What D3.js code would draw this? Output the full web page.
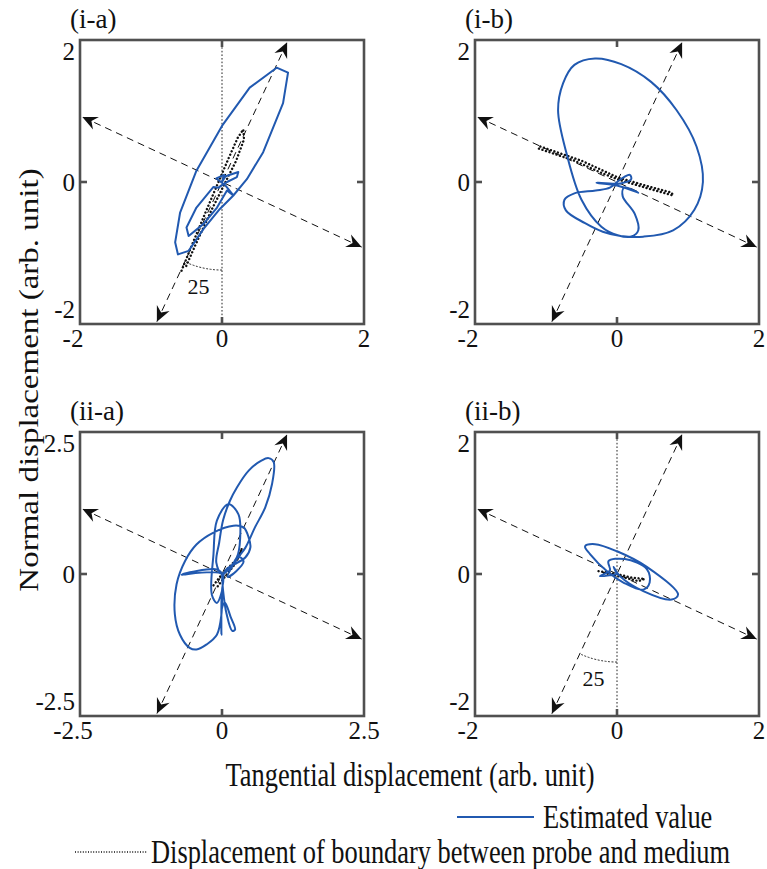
<!DOCTYPE html>
<html><head><meta charset="utf-8">
<script src="https://cdn.jsdelivr.net/npm/d3@7"></script>
<style>
html,body{margin:0;padding:0;background:#fff;}
svg text{font-family:"Liberation Serif","Times New Roman",serif;fill:#111;}
</style></head>
<body>
<svg id="chart" width="767" height="869"></svg>
<script>
// ---------------- data ----------------
const panelLabels = ["(i-a)", "(i-b)", "(ii-a)", "(ii-b)"];
const axisLimits = [2, 2, 2.5, 2];
const tickValuesA = [-2, 0, 2];
const tickValuesB = [-2.5, 0, 2.5];
const rotationAngleDeg = 25;           // angle of the rotated (dashed) frame
const rotatedAxisLength = [2.17, 2.17, 2.71, 2.17];
const showVerticalRef = [true, false, false, true];
const angleLabel = "25";

const estimatedIA = [[0,0],[0.05,0.08],[0.23,0.14],[0.21,0.07],[0.07,0.0],[-0.05,-0.08],[-0.12,-0.07],[-0.36,-0.36],[-0.50,-0.64],[-0.47,-0.76],[-0.26,-0.59],[-0.07,-0.36],[0.07,-0.12],[0.16,-0.19],[0.35,0.04],[0.58,0.42],[0.86,1.11],[0.93,1.54],[0.77,1.61],[0.39,1.33],[0.0,0.79],[-0.36,0.16],[-0.59,-0.43],[-0.66,-0.85],[-0.62,-1.02],[-0.47,-0.97],[-0.26,-0.66],[-0.03,-0.38],[0.16,-0.19],[0.05,-0.05],[-0.08,0.05],[0.03,0.1],[0.0,0.0]];
const boundaryIA = [[-0.57,-1.25],[-0.42,-0.88],[-0.22,-0.40],[-0.05,0.0],[0.10,0.35],[0.22,0.62],[0.30,0.74],[0.31,0.60],[0.20,0.30],[0.05,0.0],[-0.15,-0.40],[-0.38,-0.90],[-0.52,-1.22]];

const estimatedIB = [[0,0],[0.18,0.10],[0.20,0.04],[0.05,-0.02],[-0.29,-0.01],[0.0,-0.05],[0.30,-0.15],[0.10,-0.08],[0.08,-0.20],[0.25,-0.45],[0.30,-0.68],[0.20,-0.77],[0.01,-0.75],[-0.22,-0.63],[-0.50,-0.25],[-0.71,0.40],[-0.83,1.01],[-0.76,1.39],[-0.60,1.65],[-0.31,1.74],[0.06,1.66],[0.48,1.41],[0.84,1.01],[1.12,0.50],[1.21,0.0],[1.09,-0.39],[0.79,-0.68],[0.37,-0.77],[0.05,-0.76],[-0.20,-0.70],[-0.45,-0.58],[-0.72,-0.40],[-0.74,-0.25],[-0.60,-0.16],[-0.30,-0.12],[-0.10,-0.08],[0,0]];
const boundaryIB = [[-1.10,0.47],[-0.60,0.30],[-0.20,0.12],[0,0.04],[0.40,-0.08],[0.79,-0.19],[0.77,-0.15],[0.40,-0.05],[0,0.07],[-0.50,0.30],[-1.08,0.50]];

const estimatedIIA = [[0,0],[0.15,0.10],[0.30,0.30],[0.38,0.22],[0.25,0.05],[0.10,-0.05],[0.26,0.26],[0.41,0.46],[0.58,0.82],[0.76,1.17],[0.88,1.58],[0.91,1.97],[0.82,2.04],[0.70,2.00],[0.47,1.82],[0.26,1.52],[0.14,1.29],[0.02,0.95],[-0.05,0.55],[-0.10,0.20],[0.0,0.0],[0.26,0.29],[0.32,0.64],[0.29,1.05],[0.11,1.23],[-0.09,0.94],[-0.15,0.35],[-0.18,-0.36],[-0.09,-0.51],[0.0,-0.30],[0.05,0.05],[0.41,0.29],[0.50,0.47],[0.47,0.64],[0.38,0.82],[0.20,0.85],[-0.15,0.73],[-0.45,0.52],[-0.65,0.23],[-0.80,-0.18],[-0.83,-0.71],[-0.74,-1.07],[-0.57,-1.30],[-0.45,-1.33],[-0.27,-1.24],[-0.09,-1.07],[-0.01,-0.71],[0.0,-0.30],[0,0],[-0.71,-0.01],[-0.09,0.08],[0,0],[-0.01,-0.50],[-0.01,-1.07],[0.0,-0.60],[0.05,-0.50],[0.15,-0.75],[0.23,-0.98],[0.18,-1.00],[0.08,-0.70],[0.02,-0.30],[0,0]];
const boundaryIIA = [[-0.15,-0.20],[0,0],[0.10,0.10],[0.30,0.30],[0.35,0.45],[0.25,0.20],[0.05,-0.05],[-0.10,-0.25]];

const estimatedIIB = [[0,0],[-0.24,-0.03],[-0.10,0.05],[-0.12,0.18],[0.11,0.21],[0.42,0.07],[0.46,-0.12],[0.37,-0.22],[0.09,-0.12],[-0.12,0.02],[-0.38,0.28],[-0.45,0.39],[-0.31,0.42],[0.0,0.32],[0.42,0.10],[0.86,-0.29],[0.77,-0.36],[0.37,-0.24],[0.04,-0.03],[-0.05,0.10],[0,0]];
const boundaryIIB = [[-0.26,0.04],[0,0],[0.20,-0.05],[0.39,-0.07],[0.30,-0.10],[0.10,-0.05],[-0.20,0.02]];

const estimatedSeries = [estimatedIA, estimatedIB, estimatedIIA, estimatedIIB];
const boundarySeries = [boundaryIA, boundaryIB, boundaryIIA, boundaryIIB];

const xAxisTitle = "Tangential displacement (arb. unit)";
const yAxisTitle = "Normal displacement (arb. unit)";
const legendLabels = ["Estimated value", "Displacement of boundary between probe and medium"];

// ---------------- layout / style ----------------
const BLUE = "#2159b0";
const FRAME = "#505050";
const colLeft = [80, 475];
const rowTop = [40, 432];
const PW = 284, PH = 284;
const SX = 0.8; // horizontal squeeze of the reference's title type

const svg = d3.select("#chart");
const defs = svg.append("defs");
defs.append("marker").attr("id","arrow")
  .attr("viewBox","-17 -8 19 16").attr("refX",0).attr("refY",0)
  .attr("markerWidth",19).attr("markerHeight",16)
  .attr("markerUnits","userSpaceOnUse")
  .attr("orient","auto-start-reverse")
  .append("path").attr("d","M0,0 L-15,-7 L-10,0 L-15,7 Z").attr("fill","#111");

function putText(sel, x, y, txt, size, anchor, sx, rot) {
  return sel.append("text")
    .attr("transform", rot ? `translate(${x},${y}) rotate(-90) scale(1,${sx})` : `translate(${x},${y}) scale(${sx},1)`)
    .attr("font-size", size).attr("text-anchor", anchor || "start").text(txt);
}

for (let i = 0; i < 4; i++) {
  const L = axisLimits[i];
  const left = colLeft[i % 2], top = rowTop[Math.floor(i / 2)];
  const x = d3.scaleLinear().domain([-L, L]).range([left, left + PW]);
  const y = d3.scaleLinear().domain([-L, L]).range([top + PH, top]);
  const g = svg.append("g");
  const ticks = L === 2.5 ? tickValuesB : tickValuesA;

  // vertical dotted reference and angle arc
  if (showVerticalRef[i]) {
    g.append("line").attr("x1", x(0)).attr("x2", x(0)).attr("y1", y(L)).attr("y2", y(-L))
      .attr("stroke","#222").attr("stroke-width",1).attr("stroke-dasharray","1.6,2");
    const r = 1.24 * (L / 2);
    const a0 = -Math.PI/2, a1 = -Math.PI/2 - rotationAngleDeg*Math.PI/180;
    const arcPts = d3.range(0, 1.0001, 0.05).map(t => {
      const a = a0 + (a1 - a0) * t;
      return [r * Math.cos(a), r * Math.sin(a)];
    });
    g.append("path").attr("d", d3.line().x(d => x(d[0])).y(d => y(d[1]))(arcPts))
      .attr("fill","none").attr("stroke","#333").attr("stroke-width",1).attr("stroke-dasharray","2,1.5");
    putText(g, x(-0.33 * L / 2), y(-1.47 * L / 2) + 8, angleLabel, 22, "middle", 1);
  }

  // rotated dashed axes with arrowheads
  const th = rotationAngleDeg * Math.PI / 180;
  const Ra = rotatedAxisLength[i];
  const dirs = [[Math.sin(th), Math.cos(th)], [-Math.cos(th), Math.sin(th)]];
  dirs.forEach(d => {
    g.append("line")
      .attr("x1", x(-Ra * d[0])).attr("y1", y(-Ra * d[1]))
      .attr("x2", x(Ra * d[0])).attr("y2", y(Ra * d[1]))
      .attr("stroke","#111").attr("stroke-width",1).attr("stroke-dasharray","7,5")
      .attr("marker-start","url(#arrow)").attr("marker-end","url(#arrow)");
  });

  // boundary (dotted)
  const line = d3.line().x(d => x(d[0])).y(d => y(d[1]));
  g.append("path").attr("d", line(boundarySeries[i]))
    .attr("fill","none").attr("stroke","#111").attr("stroke-width",2.4)
    .attr("stroke-linecap","round").attr("stroke-dasharray","0.1,3.6");

  // estimated (blue)
  const estLine = i === 0 ? line : d3.line().x(d => x(d[0])).y(d => y(d[1])).curve(d3.curveCatmullRom.alpha(0.5));
  g.append("path").attr("d", estLine(estimatedSeries[i]))
    .attr("fill","none").attr("stroke",BLUE).attr("stroke-width",2).attr("stroke-linejoin","round");

  // frame
  g.append("rect").attr("x", left).attr("y", top).attr("width", PW).attr("height", PH)
    .attr("fill","none").attr("stroke",FRAME).attr("stroke-width",2.6);
  const tl = 7;
  [[x(0), top, x(0), top + tl], [x(0), top + PH, x(0), top + PH - tl],
   [left, y(0), left + tl, y(0)], [left + PW, y(0), left + PW - tl, y(0)]].forEach(s => {
    g.append("line").attr("x1",s[0]).attr("y1",s[1]).attr("x2",s[2]).attr("y2",s[3])
      .attr("stroke",FRAME).attr("stroke-width",2.6);
  });

  // tick labels
  ticks.forEach(v => {
    const lbl = String(v);
    const dy = v === L ? 11 : (v === -L ? -15 : 0);
    putText(g, left - 5, y(v) + dy + 9, lbl, 25, "end", 1);
    const dx = v === -L ? -7 : 0;
    putText(g, x(v) + dx, top + PH + 23, lbl, 25, "middle", 1);
  });

  // panel label
  putText(g, left - 10, top - 12, panelLabels[i], 27, "start", 1);
}

// axis titles
putText(svg, 410, 786, xAxisTitle, 33, "middle", SX);
putText(svg, 38, 380, yAxisTitle, 33, "middle", SX, true);

// legend
svg.append("line").attr("x1",457).attr("x2",534).attr("y1",817).attr("y2",817)
  .attr("stroke",BLUE).attr("stroke-width",2);
putText(svg, 543, 828, legendLabels[0], 33, "start", SX);
svg.append("line").attr("x1",75).attr("x2",147).attr("y1",852).attr("y2",852)
  .attr("stroke","#111").attr("stroke-width",1.5).attr("stroke-dasharray","1,1.6");
putText(svg, 151, 863, legendLabels[1], 33, "start", SX);
</script>
</body></html>
